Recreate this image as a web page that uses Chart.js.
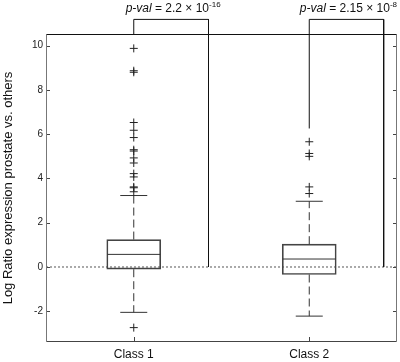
<!DOCTYPE html>
<html>
<head>
<meta charset="utf-8">
<script src="https://cdn.jsdelivr.net/npm/chart.js@4"></script>
<style>
html,body{margin:0;padding:0;background:#fff;}
#wrap{width:400px;height:362px;}
</style>
</head>
<body>
<div id="wrap"><canvas id="c" width="400" height="362"></canvas></div>
<script>
// ---- data ----
const categories = ['Class 1', 'Class 2'];
const q1 = [-0.10, -0.34];
const medians = [0.57, 0.36];
const q3 = [1.24, 1.03];
const whiskerLow = [-2.05, -2.22];
const whiskerHigh = [3.23, 2.97];
const outliersClass1 = [9.88, 8.87, 8.80, 6.53, 6.18, 5.85, 5.30, 5.24, 4.93, 4.70, 4.22, 4.07, 3.62, 3.58, 3.40, -2.74];
const outliersClass2 = [5.66, 5.13, 5.00, 3.62, 3.32];
const pValueMantissa = ['2.2', '2.15'];
const pValueExponent = ['-16', '-8'];
const bracketStart = [10.53, 6.26];
const bracketTop = 11.19;
const bracketEnd = [1.426, 2.424];
const bracketEndValue = [0, 0];
const yTickValues = [-2, 0, 2, 4, 6, 8, 10];

const positions = categories.map((c, i) => i + 1);

const whiskerData = (i) => [
  {x: positions[i], y: q3[i]}, {x: positions[i], y: whiskerHigh[i]},
  {x: positions[i], y: null},
  {x: positions[i], y: q1[i]}, {x: positions[i], y: whiskerLow[i]}
];
const bracketData = (i) => [
  {x: positions[i], y: bracketStart[i]},
  {x: positions[i], y: bracketTop},
  {x: bracketEnd[i], y: bracketTop},
  {x: bracketEnd[i], y: bracketEndValue[i]}
];

const FONT = "'Liberation Sans', Arial, sans-serif";

const framePlugin = {
  id: 'frame',
  afterDatasetsDraw(chart) {
    const {ctx, chartArea: a, scales: {x, y}} = chart;
    ctx.save();
    ctx.lineWidth = 1;
    ctx.strokeStyle = '#444';
    ctx.beginPath();
    yTickValues.forEach(v => {
      const py = Math.round(y.getPixelForValue(v)) + 0.5;
      ctx.moveTo(a.left, py); ctx.lineTo(a.left + 4, py);
      ctx.moveTo(a.right, py); ctx.lineTo(a.right - 4, py);
    });
    positions.forEach(v => {
      const px = Math.round(x.getPixelForValue(v)) + 0.5;
      ctx.moveTo(px, a.bottom); ctx.lineTo(px, a.bottom - 5);
    });
    ctx.stroke();
    const L = Math.round(a.left) + 0.5, R = Math.round(a.right) - 0.5;
    const T = Math.round(a.top) + 0.5, B = Math.round(a.bottom) - 0.5;
    ctx.strokeStyle = '#777';
    ctx.beginPath(); ctx.moveTo(L, T); ctx.lineTo(L, B); ctx.moveTo(R, T); ctx.lineTo(R, B); ctx.stroke();
    ctx.strokeStyle = '#111';
    ctx.beginPath(); ctx.moveTo(L, T); ctx.lineTo(R, T); ctx.stroke();
    ctx.strokeStyle = '#444';
    ctx.beginPath(); ctx.moveTo(L, B); ctx.lineTo(R, B); ctx.stroke();
    ctx.fillStyle = '#111';
    ctx.textBaseline = 'alphabetic';
    positions.forEach((p, i) => {
      const parts = [
        {t: 'p-val', f: 'italic 12px ' + FONT, dy: 0},
        {t: ' = ' + pValueMantissa[i] + ' \u00d7 10', f: '12px ' + FONT, dy: 0},
        {t: pValueExponent[i], f: '8px ' + FONT, dy: -5}
      ];
      let w = 0;
      parts.forEach(pt => { ctx.font = pt.f; pt.w = ctx.measureText(pt.t).width; w += pt.w; });
      const cx = (x.getPixelForValue(p) + x.getPixelForValue(bracketEnd[i])) / 2 + 2;
      const by = y.getPixelForValue(bracketTop) - 7;
      let px = cx - w / 2;
      parts.forEach(pt => { ctx.font = pt.f; ctx.fillText(pt.t, px, by + pt.dy); px += pt.w; });
    });
    ctx.restore();
  }
};

new Chart(document.getElementById('c'), {
  type: 'bar',
  data: {
    datasets: [
      {
        type: 'line', label: 'zero',
        data: [{x: 0.5, y: 0}, {x: 2.5, y: 0}],
        borderColor: '#555', borderWidth: 1, borderDash: [2, 2],
        pointRadius: 0, order: 5
      },
      {
        type: 'bar', label: 'box',
        data: positions.map((p, i) => ({x: p, y: [q1[i], q3[i]]})),
        backgroundColor: 'rgba(0,0,0,0)', borderColor: '#444', borderWidth: 1,
        borderSkipped: false, barThickness: 54, order: 4
      },
      {
        type: 'scatter', label: 'median',
        data: positions.map((p, i) => ({x: p, y: medians[i]})),
        pointStyle: 'line', pointRadius: 26.5, borderColor: '#333', borderWidth: 1, order: 3
      },
      {
        type: 'scatter', label: 'caps',
        data: positions.flatMap((p, i) => [{x: p, y: whiskerHigh[i]}, {x: p, y: whiskerLow[i]}]),
        pointStyle: 'line', pointRadius: 13.5, borderColor: '#333', borderWidth: 1, order: 3
      },
      ...positions.map((p, i) => ({
        type: 'line', label: 'whisker' + i,
        data: whiskerData(i), spanGaps: false,
        borderColor: '#333', borderWidth: 1, borderDash: [8, 4], pointRadius: 0, order: 3
      })),
      {
        type: 'scatter', label: 'outliers',
        data: [
          ...outliersClass1.map(v => ({x: positions[0], y: v})),
          ...outliersClass2.map(v => ({x: positions[1], y: v}))
        ],
        pointStyle: 'cross', pointRadius: 4, borderColor: '#222', borderWidth: 1, order: 2
      },
      ...positions.map((p, i) => ({
        type: 'line', label: 'bracket' + i,
        data: bracketData(i), clip: false,
        borderColor: '#111', borderWidth: 1, pointRadius: 0, tension: 0, order: 1
      }))
    ]
  },
  options: {
    responsive: false,
    animation: false,
    events: [],
    layout: {autoPadding: false, padding: {top: 34, right: 3, left: 0, bottom: 0}},
    plugins: {legend: {display: false}, tooltip: {enabled: false}},
    scales: {
      x: {
        type: 'linear', min: 0.5, max: 2.5, offset: false,
        grid: {display: false, drawTicks: false, offset: false},
        border: {display: false},
        afterBuildTicks: (s) => { s.ticks = positions.map(v => ({value: v})); },
        afterFit: (s) => { s.height = 20; s.paddingLeft = 0; s.paddingRight = 0; },
        ticks: {
          callback: (v) => categories[v - 1],
          padding: 5, maxRotation: 0, autoSkip: false,
          color: '#111', font: {family: FONT, size: 12}
        }
      },
      y: {
        type: 'linear', min: -3.39, max: 10.53,
        grid: {display: false, drawTicks: false},
        border: {display: false},
        afterBuildTicks: (s) => { s.ticks = yTickValues.map(v => ({value: v})); },
        afterFit: (s) => { s.width = 46; s.paddingTop = 0; s.paddingBottom = 0; },
        ticks: {
          padding: 3, color: '#222', font: {family: FONT, size: 10}
        },
        title: {
          display: true, text: 'Log Ratio expression prostate vs. others',
          color: '#111', font: {family: FONT, size: 13}, padding: {top: 1, bottom: 0}
        }
      }
    }
  },
  plugins: [framePlugin]
});
</script>
</body>
</html>
